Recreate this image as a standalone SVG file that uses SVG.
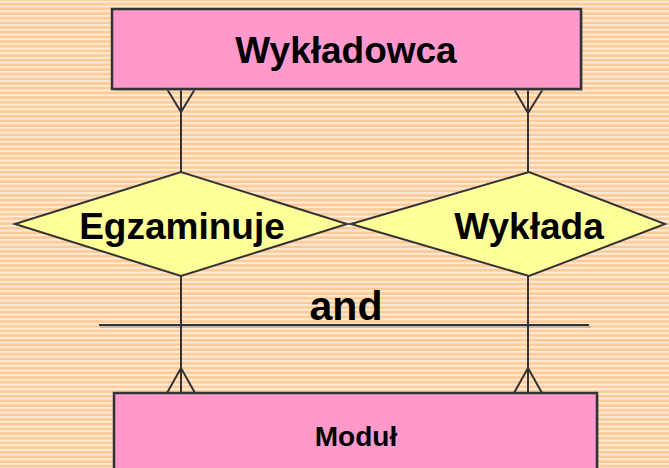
<svg xmlns="http://www.w3.org/2000/svg" width="669" height="468" viewBox="0 0 669 468">
  <defs>
    <!-- striped slide background -->
    <pattern id="stripes" patternUnits="userSpaceOnUse" width="10" height="4.667">
      <rect width="10" height="4.667" fill="#FFCC99"/>
      <rect y="1.2" width="10" height="1.2" fill="#FFFFFF"/>
    </pattern>
    <style>
      .entity { fill: #FF99CC; stroke: #333333; stroke-width: 2.5; }
      .relation { fill: #FFFF99; stroke: #333333; stroke-width: 2; }
      .shadow { fill: #9a9a9a; opacity: 0.5; }
      .link { fill: none; stroke: #333333; stroke-width: 2; }
      .label { font-family: "Liberation Sans", Arial, sans-serif; font-weight: bold; fill: #000000; text-anchor: middle; }
    </style>
  </defs>

  <rect width="669" height="468" fill="url(#stripes)"/>

  <!-- connectors with crow's feet -->
  <g id="connectors">
    <line x1="100" y1="327" x2="591" y2="327" stroke="#9a9a9a" stroke-opacity="0.5" stroke-width="2"/>
    <line class="link" x1="99" y1="325" x2="589" y2="325"/>
    <path class="link" d="M181 89 V172 M167 89 L181 112 L195 89"/>
    <path class="link" d="M528 89 V172 M514 89 L528 113 L543 89"/>
    <path class="link" d="M181 276 V393 M167 393 L181 368 L195 393"/>
    <path class="link" d="M528 276 V393 M514 393 L528 368 L542 393"/>
  </g>

  <g id="wykladowca">
    <rect class="shadow" x="114" y="11" width="469" height="80"/>
    <rect class="entity" x="112" y="9" width="469" height="80"/>
    <text class="label" x="346" y="63" font-size="37">Wykładowca</text>
  </g>

  <g id="egzaminuje">
    <polygon class="relation" points="15,224 181,172 347,224 181,276"/>
    <text class="label" x="182" y="239" font-size="37">Egzaminuje</text>
  </g>

  <g id="wyklada">
    <polygon class="relation" points="351,224 529,172 665,224 529,276"/>
    <text class="label" x="529" y="239" font-size="37">Wykłada</text>
  </g>

  <text class="label" x="346" y="320" font-size="41">and</text>

  <g id="modul">
    <rect class="shadow" x="116" y="395" width="483" height="80"/>
    <rect class="entity" x="114" y="393" width="483" height="80"/>
    <text class="label" x="356" y="446" font-size="28">Moduł</text>
  </g>
</svg>
